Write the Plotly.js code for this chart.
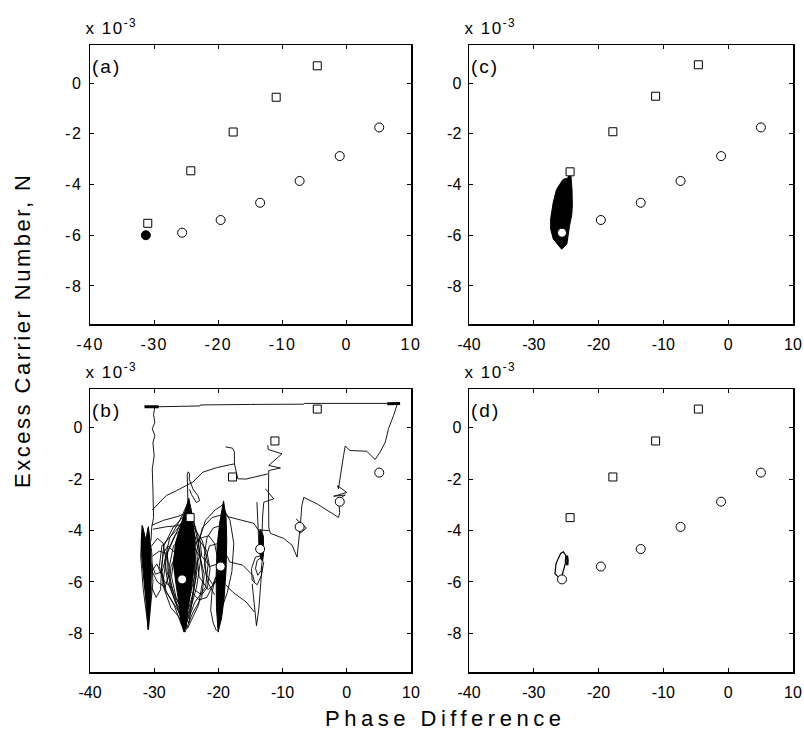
<!DOCTYPE html>
<html>
<head>
<meta charset="utf-8">
<script src="https://cdn.plot.ly/plotly-3.0.1.min.js"></script>
<style>
body{margin:0;background:#fff}
#chart{width:804px;height:739px}
.xtick text,.ytick text{letter-spacing:1.5px}
.annotation[data-index="0"] text{letter-spacing:4.5px}
.annotation[data-index="1"] text{letter-spacing:2.5px}
.annotation[data-index="2"] text,.annotation[data-index="3"] text,.annotation[data-index="4"] text,.annotation[data-index="5"] text{letter-spacing:1.5px}
.annotation[data-index="6"] text,.annotation[data-index="7"] text,.annotation[data-index="8"] text,.annotation[data-index="9"] text{letter-spacing:2px}
</style>
</head>
<body>
<div id="chart"></div>
<script>
// ---------- axis ticks ----------
const xTickVals = [-40, -30, -20, -10, 0, 10];
const xTickText = ['-40', '-30', '-20', '-10', '0', '10'];
const yTickVals = [-8, -6, -4, -2, 0];
const yTickText = ['-8', '-6', '-4', '-2', '0'];

// ---------- markers (steady states) ----------
const squareXa = [-31.0, -24.3, -17.7, -11.0, -4.6];
const squareYa = [-5.53, -3.46, -1.93, -0.56, 0.68];
const squareX = [-24.4, -17.8, -11.2, -4.6];
const squareY = [-3.5, -1.92, -0.52, 0.72];
const circleX = [-25.65, -19.65, -13.5, -7.35, -1.1, 5.05];
const circleY = [-5.9, -5.4, -4.72, -3.86, -2.88, -1.75];
const filledX = [-31.3];
const filledY = [-6.0];

// ---------- panel (b) trajectory pieces ----------
const bTopX = [-31.5, -29.5, -22.9, -22.8, -15.0, -6.7, -6.6, 8.3];
const bTopY = [0.81, 0.81, 0.84, 0.88, 0.90, 0.91, 0.94, 0.94];
const bTopLX = [-31.5, -29.3];
const bTopLY = [0.81, 0.81];
const bTopRX = [6.3, 8.3];
const bTopRY = [0.93, 0.94];
const bLeftX = [-29.9, -30.1, -29.9, -30.3, -29.9, -30.2, -30.0, -30.3, -30.2, -30.2, -30.1, -30.4, -30.5];
const bLeftY = [0.81, 0.5, 0.2, -0.05, -0.3, -0.6, -1.1, -1.6, -2.4, -3.0, -3.5, -3.9, -4.4];
const bRightX = [8.0, 7.8, 7.3, 6.5, 6.0, 5.2, 4.4, 3.1, 0.5, -0.25, -0.5, -1.0, -1.3, -1.45, 0.0, -2.05, -0.25, -1.3, -1.1, -1.3, -2.6, -4.6, -6.7, -7.0, -7.2, -7.5, -7.75];
const bRightY = [0.94, 0.87, 0.48, -0.04, -0.56, -0.95, -1.24, -0.92, -0.89, -0.72, -1.08, -1.86, -2.38, -2.26, -2.52, -2.67, -2.62, -2.78, -3.3, -3.49, -3.29, -2.97, -2.71, -3.03, -3.68, -4.4, -5.03];
const bCircLoopX = [-7.9, -6.3, -7.2, -7.9];
const bCircLoopY = [-3.55, -3.9, -4.1, -3.8];
const bMidAX = [-30.3, -29.2, -28.1, -26.5, -25.5, -24.0, -22.4, -20.3, -18.3, -17.5, -17.5, -17.8, -18.9];
const bMidAY = [-3.2, -2.9, -2.64, -2.45, -2.32, -2.12, -1.73, -1.56, -1.45, -1.41, -0.95, -0.8, -0.75];
const bMidBX = [-17.5, -17.2, -16.97, -15.7, -14.4, -13.45, -12.3];
const bMidBY = [-1.41, -1.73, -1.99, -2.0, -1.93, -1.89, -1.8];
const bVertX = [-12.3, -12.25, -10.1, -12.16, -10.34, -12.16, -12.2, -12.2, -12.15, -11.9, -9.82, -8.53, -7.75];
const bVertY = [-0.69, -0.85, -1.02, -1.47, -1.57, -1.67, -2.5, -3.3, -3.9, -4.11, -4.31, -4.57, -5.03];
const bShortX = [-13.45, -12.15];
const bShortY = [-3.98, -4.0];
const bZigX = [-12.67, -11.38, -12.93, -13.1, -13.2, -13.4];
const bZigY = [-2.38, -2.77, -2.9, -3.4, -4.07, -4.6];
const bVert2X = [-14.0, -13.9, -13.8, -13.7];
const bVert2Y = [-2.9, -3.4, -4.07, -4.5];
const bLoopTopX = [-24.7, -24.75, -24.8, -24.85, -24.7, -24.5, -24.55, -24.3, -23.95, -23.18, -22.92, -23.44, -24.2, -24.5];
const bLoopTopY = [-3.4, -2.6, -2.0, -1.85, -1.72, -1.8, -2.0, -2.2, -2.39, -2.65, -2.84, -2.91, -2.6, -2.4];
const bLineBX = [-30.4, -28.5, -26.4, -25.1, -24.6];
const bLineBY = [-3.8, -3.6, -3.46, -3.33, -3.1];
const bLineCX = [-30.2, -28.0, -26.5, -25.2];
const bLineCY = [-3.95, -3.85, -3.82, -3.7];

// cluster near -31
const c1CoreX = [-31.8, -31.3, -30.9, -30.6, -30.45, -30.5, -30.75, -30.95, -31.2, -31.6, -31.95, -32.0, -31.8];
const c1CoreY = [-3.85, -4.4, -3.85, -4.6, -5.5, -6.5, -7.3, -7.85, -7.0, -6.0, -5.0, -4.3, -3.85];
const c1LineX = [-31.9, -32.1, -31.7, -31.2, -30.9, -30.2, -30.4, -30.95, -31.3, -31.9];
const c1LineY = [-3.8, -5.0, -6.3, -7.2, -7.85, -6.0, -4.8, -3.9, -4.4, -3.8];
const c1LoopAX = [-30.4, -29.5, -28.6, -28.2, -28.8, -29.8, -30.4];
const c1LoopAY = [-4.6, -4.3, -4.5, -5.1, -5.6, -5.7, -5.3];
const c1LoopBX = [-30.3, -29.2, -28.0, -27.6, -28.3, -29.5, -30.3];
const c1LoopBY = [-5.0, -4.8, -4.9, -5.6, -6.2, -6.0, -5.6];
const c1LoopCX = [-30.4, -29.6, -28.9, -29.0, -29.7, -30.4];
const c1LoopCY = [-5.6, -5.3, -5.7, -6.3, -6.6, -6.2];

// cluster near -25.5
const c2CoreX = [-24.6, -24.0, -23.6, -23.7, -24.2, -24.7, -25.0, -25.35, -25.8, -26.1, -26.6, -27.0, -26.7, -25.9, -25.0, -24.6];
const c2CoreY = [-2.75, -3.6, -4.5, -5.3, -6.2, -7.0, -7.7, -7.95, -7.6, -6.9, -6.1, -5.3, -4.5, -3.8, -3.1, -2.75];
const c2LoopAX = [-24.7, -26.0, -27.6, -28.4, -27.9, -26.8, -25.6, -25.3, -24.4, -23.4, -22.8, -23.2, -24.7];
const c2LoopAY = [-2.9, -3.6, -4.3, -5.2, -6.0, -6.7, -7.6, -7.9, -7.1, -6.2, -5.2, -4.2, -2.9];
const c2LoopBX = [-24.8, -26.6, -28.8, -29.2, -28.3, -26.9, -25.7, -24.6, -23.7, -22.0, -21.6, -22.5, -23.8, -24.8];
const c2LoopBY = [-3.4, -4.0, -4.6, -5.4, -6.3, -6.9, -7.7, -7.4, -6.8, -6.2, -5.3, -4.4, -3.9, -3.4];
const c2LoopCX = [-25.0, -27.0, -27.8, -26.9, -25.9, -24.9, -23.9, -23.0, -24.2, -25.0];
const c2LoopCY = [-4.1, -4.6, -5.6, -6.5, -7.3, -7.0, -6.0, -5.0, -4.4, -4.1];
const c2LoopDX = [-24.6, -26.2, -28.0, -28.7, -27.4, -26.0, -25.2, -24.0, -22.6, -22.2, -23.3, -24.6];
const c2LoopDY = [-3.2, -3.9, -4.9, -6.1, -7.0, -7.4, -7.95, -7.2, -6.6, -5.7, -4.6, -3.2];
const c2LoopEX = [-25.2, -26.8, -27.9, -28.0, -27.2, -26.1, -25.0, -24.2, -23.5, -23.9, -25.2];
const c2LoopEY = [-3.8, -4.2, -4.8, -5.6, -6.3, -6.9, -7.5, -6.8, -5.8, -4.6, -3.8];
const c2LoopFX = [-24.4, -25.6, -27.1, -28.5, -28.9, -28.1, -26.8, -25.6, -24.8, -23.1, -22.4, -22.9, -24.4];
const c2LoopFY = [-3.0, -3.5, -3.9, -4.6, -5.6, -6.4, -6.9, -7.4, -7.8, -6.9, -5.9, -4.8, -3.0];
const c2LoopGX = [-24.9, -26.3, -27.4, -27.6, -26.7, -25.5, -24.6, -23.8, -23.3, -23.7, -24.9];
const c2LoopGY = [-4.4, -4.8, -5.4, -6.1, -6.8, -7.2, -7.0, -6.3, -5.5, -4.8, -4.4];
const c2LoopHX = [-23.9, -22.9, -21.8, -21.3, -21.7, -22.6, -23.8];
const c2LoopHY = [-4.2, -4.4, -4.8, -5.5, -6.2, -6.5, -6.3];
const c2LoopIX = [-26.6, -27.9, -28.6, -28.9, -28.4, -27.3];
const c2LoopIY = [-4.9, -4.6, -4.9, -5.5, -6.0, -6.2];
const c2LoopJX = [-24.5, -25.9, -26.9, -27.3, -26.6, -25.5, -24.6, -24.0, -23.6, -24.5];
const c2LoopJY = [-3.6, -4.3, -5.0, -5.8, -6.6, -7.1, -7.6, -6.6, -5.2, -3.6];

// cluster near -19.7
const c3CoreX = [-19.2, -18.8, -18.7, -18.8, -19.1, -19.5, -20.05, -20.3, -20.35, -20.2, -19.8, -19.4, -19.2];
const c3CoreY = [-2.85, -3.5, -4.4, -5.5, -6.6, -7.4, -7.95, -7.0, -5.8, -4.6, -3.7, -3.1, -2.85];
const c3LoopAX = [-19.3, -20.5, -22.0, -22.9, -22.6, -21.3, -20.2];
const c3LoopAY = [-3.0, -3.2, -3.6, -4.3, -5.0, -5.4, -5.3];
const c3LoopBX = [-19.6, -21.0, -22.5, -23.4, -23.0, -21.6, -20.4, -19.8];
const c3LoopBY = [-3.4, -3.5, -3.9, -4.8, -5.8, -6.3, -6.0, -5.5];
const c3LoopCX = [-19.1, -18.2, -17.6, -17.9, -18.6, -19.3];
const c3LoopCY = [-3.2, -3.6, -4.5, -5.6, -6.4, -6.9];
const c3LoopDX = [-19.5, -20.8, -21.8, -22.2, -21.9, -20.9, -20.0];
const c3LoopDY = [-3.8, -3.9, -4.3, -5.0, -5.7, -6.1, -5.9];
const c3LoopEX = [-20.0, -21.4, -22.2, -21.7, -20.6];
const c3LoopEY = [-4.5, -4.6, -5.3, -6.0, -6.5];
const c3LoopFX = [-20.4, -21.0, -21.2, -20.8, -20.3];
const c3LoopFY = [-5.8, -6.4, -7.1, -7.6, -7.9];
const c3RightAX = [-18.6, -18.26, -16.2, -14.64, -14.38];
const c3RightAY = [-5.0, -5.22, -5.35, -5.74, -6.0];
const c3RightBX = [-18.9, -17.74, -15.67, -14.38];
const c3RightBY = [-6.1, -6.4, -6.78, -7.17];
const c3TopX = [-19.0, -18.6, -16.55, -14.48, -13.44];
const c3TopY = [-3.3, -3.46, -3.59, -3.72, -4.11];
const c23AX = [-24.0, -22.8, -21.5, -20.6, -20.2];
const c23AY = [-4.6, -4.3, -4.2, -4.5, -5.0];
const c23BX = [-24.2, -23.0, -21.8, -21.0, -20.4];
const c23BY = [-6.4, -6.7, -6.6, -6.2, -5.8];

// cluster near -13.5
const c4CoreX = [-13.5, -13.0, -12.95, -13.1, -13.4, -13.7, -13.6, -13.5];
const c4CoreY = [-3.95, -4.2, -4.8, -5.2, -5.1, -4.6, -4.1, -3.95];
const c4LoopAX = [-12.93, -14.22, -14.84, -14.74, -13.96, -13.29, -12.93];
const c4LoopAY = [-4.96, -5.03, -5.48, -5.94, -6.11, -5.74, -5.22];
const c4LoopBX = [-13.19, -13.96, -14.22, -13.86, -13.34, -13.2];
const c4LoopBY = [-5.03, -5.16, -5.48, -5.74, -5.55, -5.2];
const c4SpikeX = [-14.74, -14.48, -14.07, -13.7, -13.45, -13.2];
const c4SpikeY = [-6.07, -6.78, -7.7, -7.04, -6.13, -5.4];

// ---------- panel (c) dense orbit ----------
const cBlobX = [-24.3, -24.1, -24.05, -24.15, -24.5, -24.9, -25.7, -26.6, -27.0, -27.4, -27.4, -27.0, -26.5, -25.5, -24.8, -24.3];
const cBlobY = [-3.55, -4.2, -4.85, -5.2, -5.65, -6.35, -6.55, -6.3, -6.15, -5.75, -5.35, -4.7, -4.2, -3.8, -3.75, -3.55];

// ---------- panel (d) small orbit ----------
const dLoopX = [-25.7, -26.2, -26.73, -26.58, -26.22, -25.86, -25.44, -25.08, -25.14, -25.44, -25.7];
const dLoopY = [-5.85, -5.81, -5.68, -5.3, -5.09, -4.89, -4.83, -4.96, -5.29, -5.61, -5.81];
const dThickX = [-24.9, -24.8, -24.85];
const dThickY = [-4.97, -5.15, -5.35];

// ---------- build ----------
const traces = [];
function line(xs, ys, ax, w) {
  traces.push({x: xs, y: ys, xaxis: 'x' + ax, yaxis: 'y' + ax, type: 'scatter', mode: 'lines',
    line: {color: '#000', width: w || 0.9}, hoverinfo: 'skip', showlegend: false});
}
function blob(xs, ys, ax) {
  traces.push({x: xs, y: ys, xaxis: 'x' + ax, yaxis: 'y' + ax, type: 'scatter', mode: 'lines',
    fill: 'toself', fillcolor: '#000', line: {color: '#000', width: 1}, hoverinfo: 'skip', showlegend: false});
}
function marks(xs, ys, ax, sym, size, fillc) {
  traces.push({x: xs, y: ys, xaxis: 'x' + ax, yaxis: 'y' + ax, type: 'scatter', mode: 'markers',
    marker: {symbol: sym, size: size, color: fillc, line: {color: '#000', width: 1}}, hoverinfo: 'skip', showlegend: false});
}

// panel (a)
marks(squareXa, squareYa, '', 'square', 8, '#fff');
marks(circleX, circleY, '', 'circle', 9, '#fff');
marks(filledX, filledY, '', 'circle', 9, '#000');

// panel (c)
blob(cBlobX, cBlobY, '2');
marks(squareX, squareY, '2', 'square', 8, '#fff');
marks(circleX, circleY, '2', 'circle', 9, '#fff');

// panel (b)
[[bTopX, bTopY], [bLeftX, bLeftY], [bRightX, bRightY], [bCircLoopX, bCircLoopY], [bMidAX, bMidAY],
 [bMidBX, bMidBY], [bVertX, bVertY], [bShortX, bShortY], [bZigX, bZigY], [bVert2X, bVert2Y],
 [bLoopTopX, bLoopTopY], [bLineBX, bLineBY], [bLineCX, bLineCY],
 [c1LineX, c1LineY], [c1LoopAX, c1LoopAY], [c1LoopBX, c1LoopBY], [c1LoopCX, c1LoopCY],
 [c2LoopAX, c2LoopAY], [c2LoopBX, c2LoopBY], [c2LoopCX, c2LoopCY], [c2LoopDX, c2LoopDY],
 [c2LoopEX, c2LoopEY], [c2LoopFX, c2LoopFY], [c2LoopGX, c2LoopGY], [c2LoopHX, c2LoopHY],
 [c2LoopIX, c2LoopIY], [c2LoopJX, c2LoopJY],
 [c3LoopAX, c3LoopAY], [c3LoopBX, c3LoopBY], [c3LoopCX, c3LoopCY], [c3LoopDX, c3LoopDY],
 [c3LoopEX, c3LoopEY], [c3LoopFX, c3LoopFY], [c3RightAX, c3RightAY],
 [c3RightBX, c3RightBY], [c3TopX, c3TopY], [c23AX, c23AY], [c23BX, c23BY],
 [c4LoopAX, c4LoopAY], [c4LoopBX, c4LoopBY], [c4SpikeX, c4SpikeY]
].forEach(p => line(p[0], p[1], '3'));
line(bTopLX, bTopLY, '3', 3);
line(bTopRX, bTopRY, '3', 3);
blob(c1CoreX, c1CoreY, '3');
blob(c2CoreX, c2CoreY, '3');
blob(c3CoreX, c3CoreY, '3');
blob(c4CoreX, c4CoreY, '3');
marks(squareX, squareY, '3', 'square', 8, '#fff');
marks(circleX, circleY, '3', 'circle', 9, '#fff');

// panel (d)
line(dLoopX, dLoopY, '4', 1.2);
line(dThickX, dThickY, '4', 2.5);
marks(squareX, squareY, '4', 'square', 8, '#fff');
marks(circleX, circleY, '4', 'circle', 9, '#fff');

const W = 804, H = 739;
const colL = [90 / W, 411 / W], colR = [469 / W, 793 / W];
const rowT = [1 - 324 / H, 1 - 45 / H], rowB = [1 - 672 / H, 1 - 389 / H];
const F = 'Liberation Sans, Arial, sans-serif';
const tickFont = {family: F, size: 16, color: '#000'};
function xax(dom, anchor) {
  return {domain: dom, anchor: anchor, range: [-40, 10], tickvals: xTickVals, ticktext: xTickText,
    ticks: 'inside', ticklen: 4, tickwidth: 1, tickcolor: '#000', showline: true, linecolor: '#000',
    linewidth: 1.5, mirror: 'ticks', showgrid: false, zeroline: false, tickfont: tickFont, ticklabelstandoff: 5};
}
function yax(dom, anchor) {
  return {domain: dom, anchor: anchor, range: [-9.5, 1.5], tickvals: yTickVals, ticktext: yTickText,
    ticks: 'inside', ticklen: 4, tickwidth: 1, tickcolor: '#000', showline: true, linecolor: '#000',
    linewidth: 1.5, mirror: 'ticks', showgrid: false, zeroline: false, tickfont: tickFont, ticklabelstandoff: 3};
}
const annotations = [
  {text: 'Phase Difference', xref: 'paper', yref: 'paper', x: 445 / W, y: 1 - 718 / H, xanchor: 'center', yanchor: 'middle', showarrow: false, font: {family: F, size: 22, color: '#000'}},
  {text: 'Excess Carrier Number, N', xref: 'paper', yref: 'paper', x: 22 / W, y: 1 - 330 / H, xanchor: 'center', yanchor: 'middle', textangle: -90, showarrow: false, font: {family: F, size: 22, color: '#000'}},
];
const panels = [[colL[0], rowT[1], '(a)'], [colL[0], rowB[1], '(b)'], [colR[0], rowT[1], '(c)'], [colR[0], rowB[1], '(d)']];
panels.forEach(p => annotations.push({text: 'x 10<sup>-3</sup>', xref: 'paper', yref: 'paper', x: p[0] - 2 / W, y: p[1] + 5 / H,
  xanchor: 'left', yanchor: 'bottom', showarrow: false, font: {family: F, size: 17, color: '#000'}}));
panels.forEach(p => annotations.push({text: p[2], xref: 'paper', yref: 'paper', x: p[0] + 3 / W, y: p[1] - 21 / H,
  xanchor: 'left', yanchor: 'middle', showarrow: false, font: {family: F, size: 19, color: '#000'}}));

const layout = {
  width: W, height: H, margin: {l: 0, r: 0, t: 0, b: 0}, paper_bgcolor: '#fff', plot_bgcolor: '#fff',
  showlegend: false,
  xaxis: xax(colL, 'y'), yaxis: yax(rowT, 'x'),
  xaxis2: xax(colR, 'y2'), yaxis2: yax(rowT, 'x2'),
  xaxis3: xax(colL, 'y3'), yaxis3: yax(rowB, 'x3'),
  xaxis4: xax(colR, 'y4'), yaxis4: yax(rowB, 'x4'),
  annotations: annotations
};
Plotly.newPlot('chart', traces, layout, {staticPlot: true, displayModeBar: false});
</script>
</body>
</html>
